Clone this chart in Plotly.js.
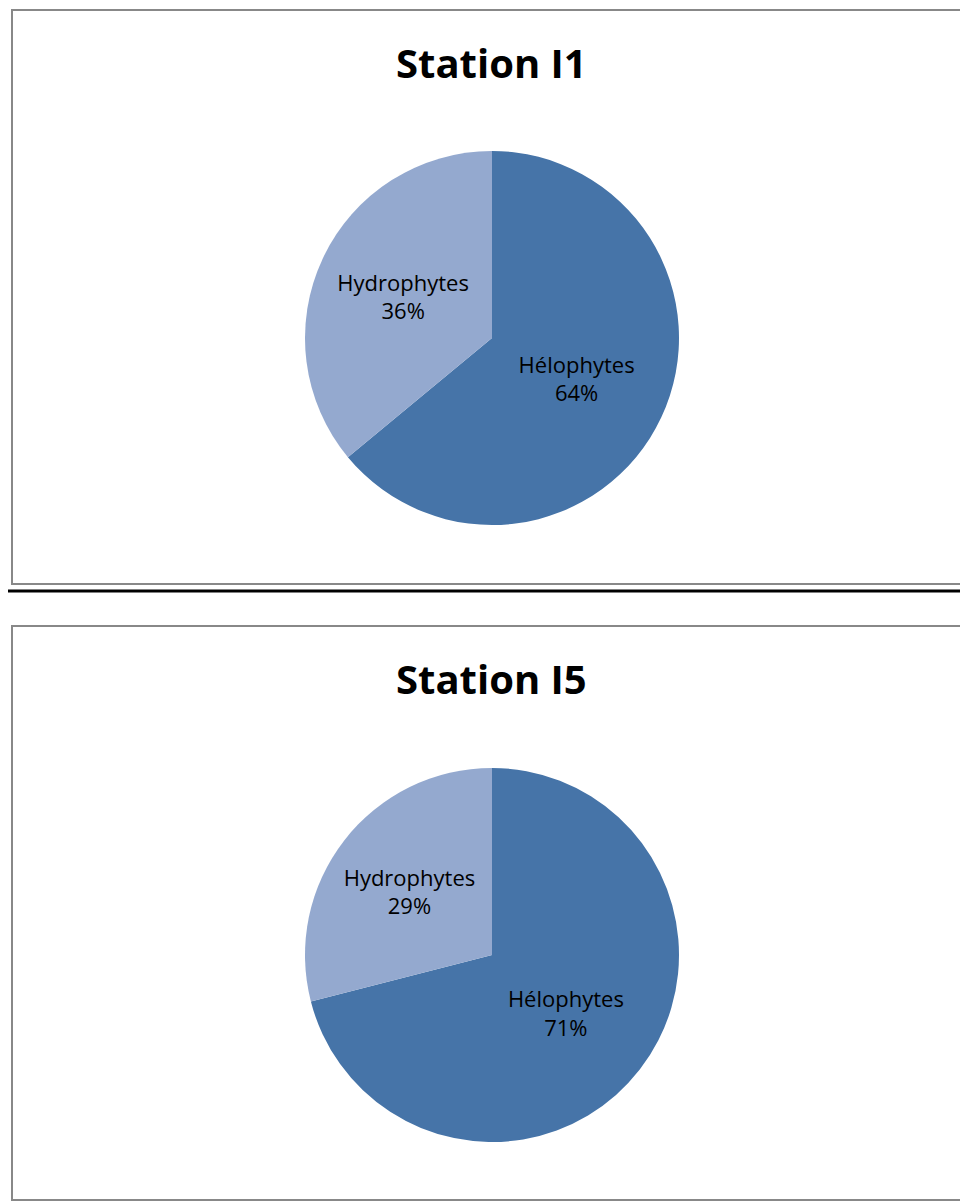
<!DOCTYPE html>
<html>
<head>
<meta charset="utf-8">
<script src="https://cdn.plot.ly/plotly-3.0.1.min.js"></script>
<style>html,body{margin:0;padding:0;background:#fff;}#chart{width:960px;height:1203px;}</style>
</head>
<body>
<div id="chart"></div>
<script>
const categories = ["Hélophytes", "Hydrophytes"];
const stationTitles = ["Station I1", "Station I5"];
const valuesI1 = [64, 36];
const valuesI5 = [71, 29];
const colors = ["#4674A8", "#94A9CF"];

const W = 960, H = 1203;
const px = x => x / W;
const py = y => 1 - y / H;

function pieTrace(vals, yTop, yBot) {
  return {
    type: "pie",
    labels: categories,
    values: vals,
    sort: false,
    direction: "clockwise",
    rotation: 0,
    marker: {colors: colors, line: {color: "#ffffff", width: 0}},
    textinfo: "label+percent",
    textposition: "inside",
    insidetextorientation: "horizontal",
    textfont: {family: "Open Sans, sans-serif", size: 22, color: "#000000"},
    hoverinfo: "label+percent",
    showlegend: false,
    domain: {x: [px(305), px(679)], y: [py(yBot), py(yTop)]}
  };
}

const data = [
  pieTrace(valuesI1, 151, 525),
  pieTrace(valuesI5, 768, 1142)
];

const boxLine = {color: "#888888", width: 2};
const titleFont = {family: "Open Sans, sans-serif", size: 40, color: "#000000"};
const layout = {
  width: W, height: H,
  margin: {l: 0, r: 0, t: 0, b: 0},
  paper_bgcolor: "#ffffff",
  showlegend: false,
  shapes: [
    {type: "rect", xref: "paper", yref: "paper", x0: px(12), x1: px(975), y0: py(10), y1: py(584), line: boxLine},
    {type: "rect", xref: "paper", yref: "paper", x0: px(12), x1: px(975), y0: py(626), y1: py(1200), line: boxLine},
    {type: "line", xref: "paper", yref: "paper", x0: px(8), x1: px(960), y0: py(591), y1: py(591), line: {color: "#000000", width: 3}}
  ],
  annotations: [
    {text: "<b>" + stationTitles[0] + "</b>", xref: "paper", yref: "paper", x: px(492), y: py(62), showarrow: false, xanchor: "center", yanchor: "middle", font: titleFont},
    {text: "<b>" + stationTitles[1] + "</b>", xref: "paper", yref: "paper", x: px(492), y: py(678), showarrow: false, xanchor: "center", yanchor: "middle", font: titleFont}
  ]
};

Plotly.newPlot("chart", data, layout, {displayModeBar: false, staticPlot: true});
</script>
</body>
</html>
